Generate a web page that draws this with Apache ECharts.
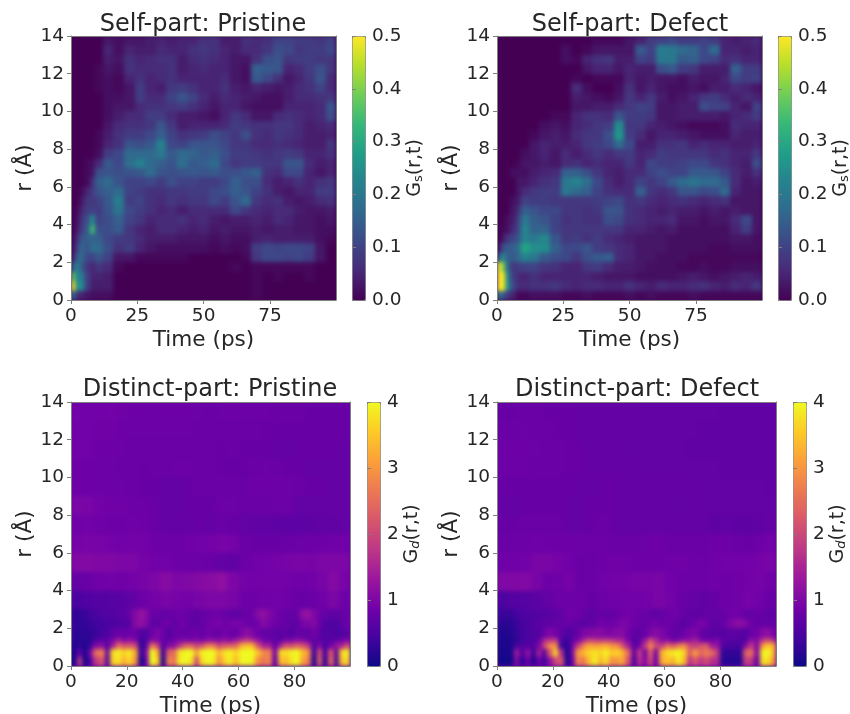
<!DOCTYPE html>
<html>
<head>
<meta charset="utf-8">
<script src="https://cdn.jsdelivr.net/npm/echarts@6/dist/echarts.min.js"></script>
<style>
    html, body { margin: 0; background: #fff; }
    #main { width: 850px; height: 714px; }
</style>
</head>
<body>
<div id="main"></div>
<script>
// values read by eye, rows go top (r=14) to bottom (r=0)
const selfTimeEdges = [0, 1.5, 3, 5, 7, 9, 12, 16, 20, 24, 28, 32, 36, 40, 44, 48, 52, 56, 60, 64, 68, 72, 76, 80, 84, 88, 92, 96, 100]
const selfREdges = [14, 13.5, 13, 12.5, 12, 11.5, 11, 10.5, 10, 9.5, 9, 8.5, 8, 7.5, 7, 6.5, 6, 5.5, 5, 4.5, 4, 3.5, 3, 2.5, 2, 1.5, 1, 0.5, 0]
const upperTimeEdges = [0, 4, 8, 12, 16, 20, 24, 28, 32, 36, 40, 44, 48, 52, 56, 60, 64, 68, 72, 76, 80, 84, 88, 92, 96, 100]
const upperREdges = [14, 13, 12, 11, 10, 9, 8, 7, 6, 5, 4, 3]
const lowerTimeEdges = [0, 2, 4, 6, 8, 10, 12, 14, 16, 18, 20, 22, 24, 26, 28, 30, 32, 34, 36, 38, 40, 42, 44, 46, 48, 50, 52, 54, 56, 58, 60, 62, 64, 66, 68, 70, 72, 74, 76, 78, 80, 82, 84, 86, 88, 90, 92, 94, 96, 98, 100]
const lowerREdges = [3, 2.5, 2, 1.5, 1.2, 0.9, 0.5, 0]

const selfTimeTicks = [0, 25, 50, 75]
const distinctTimeTicks = [0, 20, 40, 60, 80]
const rTicks = [0, 2, 4, 6, 8, 10, 12, 14]
const selfBarTicks = [0, 0.1, 0.2, 0.3, 0.4, 0.5]
const distinctBarTicks = [0, 1, 2, 3, 4]

// G_s x 100
const selfPristine = [
    [0,0,0,0,0,0,3,2,3,3,4,5,4,5,5,7,7,4,4,7,6,7,10,10,9,9,8,10],
    [0,0,0,0,0,0,5,2,5,4,4,6,5,5,7,8,7,5,4,6,6,8,12,11,8,9,9,11],
    [0,0,0,0,0,0,4,3,7,5,6,7,7,4,6,7,6,5,3,3,7,12,13,8,9,9,8,8],
    [0,0,0,0,0,1,3,2,7,6,6,6,7,4,5,6,5,5,3,2,15,14,13,5,6,9,12,8],
    [0,0,0,0,0,1,2,1,5,7,5,6,7,5,5,5,5,6,3,2,14,11,7,3,5,8,13,6],
    [0,0,0,0,0,1,2,1,3,9,5,4,8,9,7,5,5,7,4,3,5,4,3,4,6,7,10,6],
    [0,0,0,0,0,0,2,2,3,9,6,6,10,13,10,6,4,6,5,4,3,2,2,4,6,6,7,8],
    [0,0,0,0,0,0,2,3,3,6,7,7,8,9,7,5,3,5,5,3,2,2,2,5,5,5,6,13],
    [0,0,0,0,0,0,2,4,6,6,9,9,6,4,4,3,2,5,8,6,3,3,6,7,6,5,6,12],
    [0,0,0,0,0,0,3,6,7,7,8,13,8,4,5,5,5,6,9,8,7,7,8,8,6,4,5,6],
    [0,0,0,0,0,1,4,7,9,9,11,15,10,7,8,9,12,10,8,12,7,6,8,7,6,4,4,5],
    [0,0,0,0,0,1,5,7,13,12,14,22,11,10,13,13,13,11,8,8,6,6,7,6,5,4,4,8],
    [0,0,0,0,0,2,9,11,17,17,17,20,14,17,16,14,15,12,9,9,8,7,8,9,8,5,5,7],
    [0,0,0,1,2,6,14,11,18,22,17,15,13,18,14,15,17,11,8,9,9,8,8,13,13,6,4,5],
    [0,0,0,1,3,12,13,12,13,14,17,13,12,13,14,13,14,12,12,14,15,7,6,11,11,5,3,5],
    [0,0,0,1,7,15,17,13,10,10,11,9,12,10,10,9,9,11,15,12,12,6,4,5,7,5,7,8],
    [0,0,1,5,9,13,15,17,10,9,7,7,8,8,9,9,11,12,15,13,10,7,4,3,5,5,9,9],
    [0,0,3,8,8,10,14,21,9,10,7,6,8,7,8,8,11,9,13,17,8,6,7,4,3,4,6,7],
    [0,1,5,9,10,9,13,19,11,9,7,5,6,4,6,6,6,6,11,8,6,5,6,6,4,3,3,4],
    [0,2,7,12,24,10,12,15,10,8,5,6,6,7,5,6,4,3,4,4,5,4,6,5,3,3,2,3],
    [0,3,9,14,34,12,12,14,8,5,4,6,6,5,4,5,3,4,3,3,4,3,4,4,3,3,2,2],
    [1,6,13,15,16,15,11,9,8,6,4,4,4,3,3,3,2,3,2,2,4,5,4,4,4,4,2,1],
    [2,9,17,13,18,17,12,7,9,5,3,2,2,2,2,2,1,2,1,2,9,11,10,11,11,10,3,0],
    [4,15,17,11,10,13,10,3,3,1,1,1,1,1,0,0,0,0,0,1,8,11,11,10,11,9,3,0],
    [14,22,15,8,5,8,6,1,0,0,0,0,0,0,0,0,0,0,1,0,1,1,1,1,1,1,0,0],
    [38,22,22,10,5,5,4,0,0,0,0,0,0,0,0,0,0,0,0,0,1,0,1,0,0,1,0,0],
    [50,24,25,10,4,4,4,0,0,0,0,0,0,0,0,0,0,0,0,0,1,0,0,0,0,0,0,0],
    [20,6,5,3,2,2,2,0,0,0,0,0,0,0,0,0,0,0,0,0,1,0,0,0,0,0,0,0]
]
const selfDefect = [
    [0,0,0,0,0,0,0,0,0,0,0,0,1,1,1,3,5,9,10,11,9,9,10,9,5,4,5,6],
    [0,0,0,0,0,0,0,0,0,2,0,1,3,3,3,3,14,10,21,20,17,16,11,17,5,5,4,5],
    [0,0,0,0,0,0,0,0,0,2,1,5,7,8,4,4,10,9,20,20,14,15,11,10,6,7,5,5],
    [0,0,0,0,0,0,0,0,0,0,0,3,5,5,3,5,4,4,12,14,9,8,4,4,4,15,9,9],
    [0,0,0,0,0,0,0,0,0,0,1,0,1,1,1,5,3,4,3,3,2,4,3,3,5,11,9,10],
    [0,0,0,0,0,0,0,0,0,0,6,2,0,0,2,7,3,5,3,2,2,3,2,4,4,6,5,3],
    [0,0,0,0,0,0,0,0,0,0,4,3,2,1,3,8,5,8,4,2,3,5,8,9,6,4,6,5],
    [0,0,0,0,0,0,0,0,0,0,3,3,4,4,6,8,10,9,3,3,4,4,12,10,10,5,3,10],
    [0,0,0,0,0,0,0,0,1,1,5,7,7,6,13,9,9,8,3,3,4,4,4,4,3,5,6,9],
    [0,0,0,0,0,0,0,2,3,2,5,6,8,9,24,8,8,5,4,3,2,1,1,1,2,6,5,5],
    [0,0,0,0,0,0,1,3,4,3,6,8,8,12,26,9,6,3,5,5,4,3,2,2,2,5,4,4],
    [0,0,0,0,0,0,3,5,4,4,5,8,9,11,17,11,4,4,7,7,8,5,6,5,5,4,4,5],
    [0,0,0,0,0,2,3,5,3,6,4,6,8,6,8,9,5,6,9,8,8,8,8,6,7,5,5,8],
    [0,0,0,0,1,3,3,4,3,6,7,5,6,5,5,8,5,11,9,9,10,11,11,8,7,5,4,12],
    [0,0,0,2,2,2,4,5,6,15,15,12,8,5,4,6,6,10,12,10,10,14,14,13,10,6,4,7],
    [0,0,0,0,3,3,5,7,8,20,22,18,11,6,4,6,10,8,10,14,17,19,17,17,14,6,3,4],
    [0,0,0,0,3,6,8,9,9,20,17,15,10,7,6,6,15,8,6,8,13,13,11,12,17,5,3,3],
    [0,0,0,2,4,10,9,9,8,8,8,8,9,10,11,7,8,6,5,6,7,6,5,6,7,3,3,3],
    [0,0,0,3,7,15,13,11,11,8,8,7,8,13,13,7,6,5,4,5,4,4,3,4,3,4,3,3],
    [0,0,2,4,10,20,15,13,10,7,8,7,7,12,11,7,6,5,5,6,3,3,2,3,3,6,11,3],
    [0,1,2,6,11,23,16,16,10,8,8,8,8,8,8,5,5,4,3,4,2,2,2,2,2,5,9,3],
    [0,3,8,10,14,22,20,23,13,8,9,7,9,6,5,4,3,3,3,2,2,2,2,2,2,3,3,2],
    [3,12,14,15,18,29,25,24,15,11,11,13,9,8,6,5,3,3,3,2,2,2,2,1,1,2,2,2],
    [15,24,16,14,17,22,20,14,12,11,8,12,14,15,6,5,3,3,2,2,2,1,1,1,1,1,1,1],
    [50,40,18,8,9,10,10,8,7,5,5,8,9,6,4,4,3,2,2,2,1,1,2,1,1,2,2,2],
    [50,50,24,9,6,5,7,5,5,5,5,5,4,3,3,3,2,2,2,2,3,4,3,2,3,4,5,4],
    [50,50,26,11,6,6,7,7,8,6,5,6,6,5,5,7,5,4,6,5,5,6,7,5,4,6,5,8],
    [20,14,8,5,1,1,2,2,2,1,1,2,1,1,1,2,1,2,1,1,1,2,1,1,1,1,1,1]
]

// G_d x 100, r from 14 to 3
const distinctPristineUpper = [
    [90,88,88,90,86,84,84,82,84,84,84,82,80,82,84,82,82,82,80,80,80,78,78,78,78],
    [88,88,86,86,84,82,82,82,82,82,82,80,80,80,80,80,80,78,78,78,78,78,78,78,78],
    [88,88,84,84,82,80,80,80,80,80,80,80,80,78,80,78,78,78,76,76,78,78,78,78,76],
    [84,84,82,82,80,80,78,80,80,82,82,80,80,78,78,78,80,82,80,78,78,76,76,76,76],
    [84,84,84,82,82,80,78,78,76,76,78,80,80,80,80,80,84,84,84,82,80,78,78,76,76],
    [98,96,90,86,86,84,82,80,76,76,78,78,78,82,82,80,80,80,82,82,74,74,74,76,76],
    [86,88,86,84,84,86,84,80,76,76,76,78,76,80,78,74,72,72,70,68,68,70,72,72,74],
    [92,94,94,90,88,90,90,84,84,82,86,88,90,94,92,80,78,78,78,80,82,84,84,86,88],
    [106,106,104,104,100,100,92,88,88,84,82,82,80,74,72,82,88,88,92,94,96,94,100,100,100],
    [76,80,86,88,86,90,94,100,110,100,104,108,112,118,100,90,88,90,90,88,86,88,94,108,94],
    [48,56,60,62,64,72,84,90,96,92,90,96,100,100,96,84,84,86,88,84,78,80,88,98,84]
]
// r from 3 to 0, finer time steps for the streaks
const distinctPristineLower = [
    [25,30,35,45,50,55,55,60,65,65,80,105,125,110,80,80,75,75,80,85,80,75,70,75,80,85,85,80,75,70,75,80,85,110,120,105,90,80,75,75,80,120,125,100,85,75,70,70,75,80],
    [30,30,30,35,40,45,50,50,55,60,60,110,120,105,70,70,80,85,70,85,85,70,70,75,85,90,95,85,90,95,90,85,75,90,110,95,85,80,75,70,70,95,100,105,80,60,55,55,70,85],
    [25,25,25,30,35,45,55,70,85,75,85,85,60,55,85,100,85,60,80,80,75,80,85,75,90,80,80,90,85,80,100,115,100,85,75,75,70,65,70,60,75,75,70,90,70,55,60,50,55,70],
    [20,20,20,25,60,70,70,100,150,110,130,110,35,60,110,110,80,70,90,100,110,100,110,100,120,120,110,130,110,140,170,190,170,130,90,85,70,70,100,100,120,110,90,70,70,60,65,75,90,110],
    [15,30,15,40,110,120,60,150,260,220,230,210,35,70,260,200,60,110,120,180,240,240,200,220,280,270,210,230,240,250,330,350,340,220,150,150,80,150,220,210,240,220,180,60,110,50,90,130,150,230],
    [10,80,15,100,250,270,70,370,390,360,390,320,35,110,400,330,40,240,250,380,400,400,300,390,400,400,330,380,390,360,400,400,400,340,280,280,100,370,370,390,400,340,290,40,220,50,220,60,360,400],
    [5,180,10,60,180,220,50,360,380,330,370,300,10,90,400,360,20,280,260,390,400,380,200,370,400,390,300,360,390,340,400,400,390,290,260,280,80,340,340,380,400,310,270,20,240,30,240,40,340,380]
]
const distinctDefectUpper = [
    [78,78,80,80,78,78,78,76,76,76,76,76,74,74,74,74,74,74,74,74,72,72,72,72,72],
    [80,80,82,80,80,78,78,76,76,76,76,76,76,74,74,74,74,74,72,72,72,72,72,72,72],
    [84,84,84,82,80,80,78,78,76,76,76,74,74,74,74,74,74,72,72,72,72,72,72,72,72],
    [84,82,82,80,80,80,78,78,76,76,76,76,76,74,74,74,74,74,74,74,72,72,72,72,72],
    [78,78,78,78,78,78,78,76,76,78,78,76,76,76,76,76,76,76,74,74,74,74,74,74,72],
    [76,76,78,78,78,78,76,76,78,78,78,76,76,76,76,74,74,76,76,74,74,74,74,74,74],
    [78,78,80,80,80,80,76,76,78,80,78,74,74,76,76,76,76,76,74,70,72,70,70,72,76],
    [80,82,84,86,84,84,84,84,82,82,80,80,80,84,84,80,80,80,80,84,84,80,78,84,90],
    [84,86,88,96,96,92,88,78,80,84,86,86,84,84,84,86,86,84,82,86,88,88,90,92,96],
    [104,104,106,96,84,86,92,78,80,88,90,90,94,94,96,88,84,82,84,86,84,86,90,92,86],
    [52,60,62,66,74,82,84,82,78,82,86,88,88,90,96,90,80,76,72,78,84,86,92,88,78]
]
const distinctDefectLower = [
    [35,35,35,45,50,55,55,60,60,65,70,70,85,85,85,75,70,70,80,75,75,80,85,90,85,80,80,75,70,75,80,85,85,75,70,70,70,75,75,75,75,85,90,85,75,75,80,75,70,70],
    [22,22,25,35,45,50,60,65,70,70,75,75,80,75,70,65,70,75,90,85,85,90,100,95,85,80,75,85,90,80,85,80,70,65,75,85,95,90,70,70,75,95,110,115,105,85,75,80,75,75],
    [15,15,20,30,45,50,55,60,85,100,90,75,55,60,80,100,105,110,110,100,100,110,110,90,70,70,80,100,110,100,85,75,70,85,95,100,80,70,65,65,60,70,70,65,60,80,90,110,115,95],
    [12,12,15,30,40,50,55,80,160,180,190,60,35,70,100,150,200,190,180,190,180,160,150,100,60,70,130,220,160,110,120,90,100,120,120,150,100,90,90,100,70,60,60,55,60,120,110,180,210,170],
    [10,12,15,50,60,60,60,100,200,290,300,45,25,90,190,280,320,310,320,330,300,290,220,150,70,90,180,290,200,190,260,230,270,290,210,190,220,230,140,130,55,50,50,45,110,180,110,300,350,330],
    [8,8,10,140,60,120,30,140,60,220,370,170,15,100,300,330,360,380,360,390,350,360,330,250,80,190,100,240,100,330,370,380,400,360,220,300,240,270,240,180,30,30,30,30,230,250,110,390,400,330],
    [5,5,8,110,30,80,20,80,40,120,200,220,20,80,280,260,340,390,330,370,290,300,320,220,60,170,110,210,90,320,350,330,390,340,170,220,180,210,170,160,20,20,20,20,190,180,80,380,370,300]
]

const viridis = ['#440154', '#482878', '#3e4989', '#31688e', '#26828e', '#1f9e89', '#35b779', '#6ece58', '#b5de2b', '#fde725']
const plasma = ['#0d0887', '#46039f', '#7201a8', '#9c179e', '#bd3786', '#d8576b', '#ed7953', '#fb9f3a', '#fdca26', '#f0f921']

const FONT = 'DejaVu Sans'
const INK = '#262626'
const SPINE = '#7f7f7f'

const panels = [
    { title: 'Self-part: Pristine', tx: 198, ty: 8, left: 71, top: 36, width: 265, height: 264, barLeft: 352, barWidth: 13, timeTicks: selfTimeTicks, barMax: 0.5, barTicks: selfBarTicks, barGap: 41, colors: viridis, backing: '#440154', barName: 'G{sub|s}(r,t)', blocks: [[selfTimeEdges, selfREdges, selfPristine]] },
    { title: 'Self-part: Defect', tx: 625, ty: 8, left: 497, top: 36, width: 265, height: 264, barLeft: 778, barWidth: 13, timeTicks: selfTimeTicks, barMax: 0.5, barTicks: selfBarTicks, barGap: 41, colors: viridis, backing: '#440154', barName: 'G{sub|s}(r,t)', blocks: [[selfTimeEdges, selfREdges, selfDefect]] },
    { title: 'Distinct-part: Pristine', tx: 205, ty: 373, left: 71, top: 402, width: 279, height: 264, barLeft: 367, barWidth: 13, timeTicks: distinctTimeTicks, barMax: 4, barTicks: distinctBarTicks, barGap: 23, colors: plasma, backing: '#6a00a8', barName: 'G{subi|d}(r,t)', blocks: [[upperTimeEdges, upperREdges, distinctPristineUpper], [lowerTimeEdges, lowerREdges, distinctPristineLower]] },
    { title: 'Distinct-part: Defect', tx: 632, ty: 373, left: 497, top: 402, width: 279, height: 264, barLeft: 793, barWidth: 13, timeTicks: distinctTimeTicks, barMax: 4, barTicks: distinctBarTicks, barGap: 23, colors: plasma, backing: '#6a00a8', barName: 'G{subi|d}(r,t)', blocks: [[upperTimeEdges, upperREdges, distinctDefectUpper], [lowerTimeEdges, lowerREdges, distinctDefectLower]] }
]

// [t0, t1, r0, r1, value]
function buildCells(panel) {
    const cells = []
    panel.blocks.forEach(([times, radii, rows]) => {
        rows.forEach((row, i) => {
            row.forEach((v, j) => {
                cells.push([times[j], times[j + 1], radii[i + 1], radii[i], v / 100])
            })
        })
    })
    return cells
}

function renderCell(params, api) {
    const a = api.coord([api.value(0), api.value(3)])
    const b = api.coord([api.value(1), api.value(2)])
    const x = Math.round(a[0])
    const y = Math.round(a[1])
    return {
        type: 'rect',
        shape: { x: x, y: y, width: Math.round(b[0]) - x, height: Math.round(b[1]) - y },
        style: { fill: api.visual('color') }
    }
}

const tickLabel = { color: INK, fontFamily: FONT, fontSize: 18.5, margin: 7 }
// y labels sit a little low in the reference
const yTickLabel = Object.assign({}, tickLabel, { padding: [5, 0, 0, 0] })
const nameText = { color: INK, fontFamily: FONT, fontSize: 21.6 }

const option = {
    animation: false,
    title: [], grid: [], xAxis: [], yAxis: [], series: [], visualMap: []
}

panels.forEach((p, n) => {
    option.title.push({
        text: p.title, left: p.tx, top: p.ty, textAlign: 'center',
        textStyle: { color: INK, fontFamily: FONT, fontSize: 24, fontWeight: 'normal' }
    })
    const gridIndex = option.grid.length
    // outerBoundsMode none, otherwise v6 shrinks the plot to keep the axis name inside the canvas
    option.grid.push({ show: true, backgroundColor: p.backing, borderWidth: 0, outerBoundsMode: 'none', left: p.left, top: p.top, width: p.width, height: p.height })
    option.grid.push({ outerBoundsMode: 'none', left: p.barLeft, top: p.top, width: p.barWidth, height: p.height })

    const firstX = option.xAxis.length
    const firstY = option.yAxis.length
    const spine = { show: true, onZero: false, lineStyle: { color: SPINE, width: 1 } }
    const ticks = values => ({ length: 4, customValues: values, lineStyle: { color: SPINE } })
    option.xAxis.push({
        type: 'value', gridIndex, min: 0, max: 99.9, zlevel: 2,
        position: 'bottom', name: 'Time (ps)', nameLocation: 'middle', nameGap: 29, nameTextStyle: nameText,
        axisLine: spine, axisTick: ticks(p.timeTicks),
        axisLabel: Object.assign({}, tickLabel, { customValues: p.timeTicks }), splitLine: { show: false }
    })
    option.xAxis.push({
        type: 'value', gridIndex, min: 0, max: 99.9, position: 'top', zlevel: 2,
        axisLine: spine, axisTick: { show: false }, axisLabel: { show: false }, splitLine: { show: false }
    })
    option.yAxis.push({
        type: 'value', gridIndex, min: 0, max: 14, zlevel: 2,
        position: 'left', name: 'r (Å)', nameLocation: 'middle', nameRotate: 90, nameGap: 33, nameTextStyle: nameText,
        axisLine: spine, axisTick: ticks(rTicks),
        axisLabel: Object.assign({}, yTickLabel, { customValues: rTicks }), splitLine: { show: false }
    })
    option.yAxis.push({
        type: 'value', gridIndex, min: 0, max: 14, position: 'right', zlevel: 2,
        axisLine: spine, axisTick: { show: false }, axisLabel: { show: false }, splitLine: { show: false }
    })

    // colour bar axis, the bar itself is the visualMap
    option.xAxis.push({ type: 'value', gridIndex: gridIndex + 1, min: 0, max: 1, show: false })
    option.yAxis.push({
        type: 'value', gridIndex: gridIndex + 1, min: 0, max: p.barMax, zlevel: 2,
        position: 'right', name: p.barName, nameLocation: 'middle', nameRotate: 90, nameGap: p.barGap,
        nameTextStyle: {
            color: INK, fontFamily: FONT, fontSize: 19,
            rich: {
                sub: { fontFamily: FONT, fontSize: 13, color: INK, verticalAlign: 'bottom', padding: [6, 0, 0, 0] },
                subi: { fontFamily: FONT, fontStyle: 'italic', fontSize: 13, color: INK, verticalAlign: 'bottom', padding: [6, 0, 0, 0] }
            }
        },
        axisLine: { show: false }, axisTick: ticks(p.barTicks),
        axisLabel: Object.assign({}, yTickLabel, { customValues: p.barTicks, formatter: v => p.barMax < 1 ? v.toFixed(1) : String(v) }),
        splitLine: { show: false }
    })

    option.series.push({
        type: 'custom', xAxisIndex: firstX, yAxisIndex: firstY, clip: true, silent: true, zlevel: 1,
        encode: { x: [0, 1], y: [2, 3] },
        data: buildCells(p),
        renderItem: renderCell
    })
    option.visualMap.push({
        type: 'continuous', seriesIndex: n, dimension: 4, min: 0, max: p.barMax,
        left: p.barLeft, top: p.top, itemWidth: p.barWidth, itemHeight: p.height,
        padding: 0, calculable: false, hoverLink: false, text: null,
        borderColor: SPINE, borderWidth: 1,
        inRange: { color: p.colors }
    })
})

const chart = echarts.init(document.getElementById('main'), null, { renderer: 'canvas' })
chart.setOption(option)

// the reference is a soft, interpolated image: blur only the cell layer and keep it inside the plots
const cellLayer = document.querySelector('#main canvas[data-zr-dom-id="zr_1"]')
if (cellLayer) {
    cellLayer.style.filter = 'blur(2px)'
    const rects = panels.map(p => `M${p.left} ${p.top}H${p.left + p.width}V${p.top + p.height}H${p.left}Z`).join(' ')
    cellLayer.style.clipPath = `path("${rects}")`
}
</script>
</body>
</html>
